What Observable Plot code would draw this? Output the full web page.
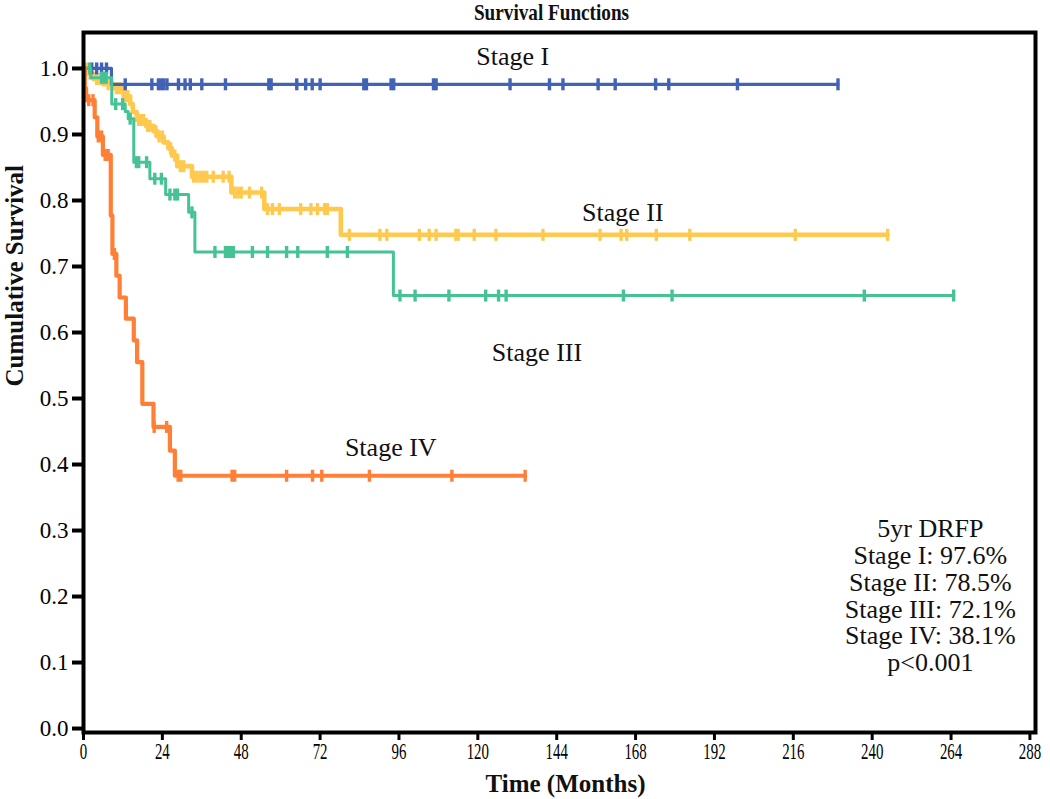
<!DOCTYPE html>
<html><head><meta charset="utf-8">
<script src="https://cdn.jsdelivr.net/npm/d3@7"></script>
<script src="https://cdn.jsdelivr.net/npm/@observablehq/plot@0.6"></script>
<style>
html,body{margin:0;padding:0;background:#fff;}
#chart svg{display:block;}
</style></head><body><div id="chart"></div>
<script>
// ---- data ----
const stageNames = ["Stage I", "Stage II", "Stage III", "Stage IV"];

// step changes [month, cumulative survival]
const stageISteps = [[0, 1.0], [8.5, 0.976]];
const stageIEnd = 229.6;
const stageICensor = [2.5, 4, 5.5, 7, 12.7, 20.8, 22.8, 23.6, 24.4, 25.4, 28.9, 30.9, 32.5, 36.0, 43.2, 56.4, 57.1, 64.9, 67.6, 69.6, 72.0, 85.3, 86.1, 93.6, 94.4, 106.5, 107.3, 129.8, 141.8, 145.9, 156.6, 161.8, 174.1, 178.1, 199.0, 229.6];

const stageIISteps = [[0, 1.0], [1.5, 0.992], [3.0, 0.984], [6.0, 0.976], [9.0, 0.970], [12.2, 0.958], [14.2, 0.946], [15.0, 0.934], [16.2, 0.922], [19.0, 0.913], [21.3, 0.905], [22.5, 0.897], [24.4, 0.888], [25.8, 0.879], [26.9, 0.868], [28.5, 0.852], [33.0, 0.836], [45.0, 0.812], [55.0, 0.787], [78.3, 0.748]];
const stageIIEnd = 244.7;
const stageIICensor = [1, 2, 4, 5, 7.5, 10, 11, 12.8, 13.5, 16.8, 17.5, 18.3, 19.5, 20.2, 22, 23, 24, 26.5, 27.8, 29.5, 30.5, 33.5, 34.5, 35.5, 36.5, 37.5, 39.5, 42.5, 44.3, 46, 47, 48, 50.5, 54.2, 56, 57.5, 59.6, 66.1, 69.2, 71.2, 73.4, 74.2, 80.9, 90.2, 92.3, 102.2, 105.2, 107.3, 113.3, 114, 118.9, 125.5, 139.8, 157.2, 163.6, 165.3, 174.3, 184.5, 216.6, 244.7];

const stageIIISteps = [[0, 1.0], [2.2, 0.986], [8.6, 0.946], [12.7, 0.935], [13.6, 0.924], [15.3, 0.858], [20.2, 0.833], [25.0, 0.809], [32.0, 0.782], [33.9, 0.722], [94.3, 0.656]];
const stageIIIEnd = 264.8;
const stageIIICensor = [1.9, 5.5, 6.2, 6.9, 9.8, 11.9, 14.2, 16.1, 16.8, 19.2, 21.7, 23.7, 26.3, 27.8, 28.6, 33.0, 40.0, 43.2, 44.0, 44.8, 45.6, 51.4, 56.0, 61.8, 65.2, 74.2, 80.3, 96.3, 100.9, 111.2, 122.4, 126.3, 128.6, 164.3, 179.1, 237.6, 264.8];

const stageIVSteps = [[0, 1.0], [0.4, 0.970], [0.8, 0.952], [3.4, 0.926], [4.2, 0.897], [5.9, 0.869], [8.3, 0.777], [8.8, 0.719], [10.0, 0.686], [11.0, 0.653], [12.9, 0.621], [15.3, 0.588], [16.3, 0.555], [17.9, 0.492], [21.3, 0.457], [26.3, 0.421], [27.8, 0.383]];
const stageIVEnd = 134.4;
const stageIVCensor = [1.6, 2.9, 4.5, 5.5, 6.6, 7.5, 9.4, 21.5, 25.3, 28.8, 29.6, 45.2, 46.0, 61.8, 69.7, 72.5, 87.0, 112.1, 134.4];

const xTicks = [0, 24, 48, 72, 96, 120, 144, 168, 192, 216, 240, 264, 288];
const yTicks = [0.0, 0.1, 0.2, 0.3, 0.4, 0.5, 0.6, 0.7, 0.8, 0.9, 1.0];

// curve label anchors (month, survival)
const labelTexts = ["Stage I", "Stage II", "Stage III", "Stage IV"];
const labelMonths = [130.6, 164.1, 138.0, 93.5];
const labelSurv = [1.018, 0.782, 0.570, 0.426];

const summaryLines = ["5yr DRFP", "Stage I: 97.6%", "Stage II: 78.5%", "Stage III: 72.1%", "Stage IV: 38.1%", "p<0.001"];
const summaryAnchor = [257.7, 0.2015];

// ---- styles ----
const colors = {"Stage I": "#4262b5", "Stage II": "#ffc94f", "Stage III": "#45c394", "Stage IV": "#ff7f36"};
const widths = {"Stage I": 3.2, "Stage II": 4.6, "Stage III": 3.0, "Stage IV": 4.2};

// ---- helpers ----
function stepValue(steps, t) { let s = steps[0][1]; for (const [ti, si] of steps) if (ti <= t) s = si; return s; }
function lineData(steps, end) { return [...steps.map(([t, s]) => ({t, s})), {t: end, s: steps[steps.length - 1][1]}]; }
function censorData(steps, times) { return times.map(t => ({t, s: stepValue(steps, t)})); }

const series = [
  {name: "Stage I", steps: stageISteps, end: stageIEnd, censor: stageICensor},
  {name: "Stage II", steps: stageIISteps, end: stageIIEnd, censor: stageIICensor},
  {name: "Stage III", steps: stageIIISteps, end: stageIIIEnd, censor: stageIIICensor},
  {name: "Stage IV", steps: stageIVSteps, end: stageIVEnd, censor: stageIVCensor}
];
const drawOrder = ["Stage II", "Stage I", "Stage III", "Stage IV"];

const vbar = {draw(ctx, size) { const r = Math.sqrt(size / Math.PI); ctx.moveTo(0, -r); ctx.lineTo(0, r); }};

const curveMarks = [];
for (const name of drawOrder) {
  const sr = series.find(d => d.name === name);
  curveMarks.push(Plot.line(lineData(sr.steps, sr.end), {x: "t", y: "s", curve: "step-after", stroke: colors[name], strokeWidth: widths[name]}));
  curveMarks.push(Plot.dot(censorData(sr.steps, sr.censor), {x: "t", y: "s", symbol: vbar, r: 6, fill: "none", stroke: colors[name], strokeWidth: 3.4}));
}

const labels = labelTexts.map((label, i) => ({label, t: labelMonths[i], s: labelSurv[i]}));

const chart = Plot.plot({
  width: 1050,
  height: 799,
  marginTop: 32,
  marginBottom: 67,
  marginLeft: 83,
  marginRight: 15,
  style: {fontFamily: "'Liberation Serif', 'Times New Roman', serif", color: "#000", background: "#fff"},
  x: {domain: [0, 289.7]},
  y: {domain: [-0.006, 1.0545]},
  marks: [
    ...curveMarks,
    Plot.text(labels, {x: "t", y: "s", text: "label", fontSize: 26, fill: "#111"}),
    Plot.text([summaryLines.join("\n")], {x: () => summaryAnchor[0], y: () => summaryAnchor[1], text: d => d, fontSize: 26, lineHeight: 1.03, fill: "#111"}),
    Plot.frame({stroke: "#000", strokeWidth: 4}),
    Plot.axisY(yTicks, {tickSize: 11, tickPadding: 4, strokeWidth: 4, fontSize: 23, tickFormat: d3.format(".1f"), label: null}),
    Plot.axisX(xTicks, {tickSize: 8, tickPadding: 1, strokeWidth: 3, fontSize: 24, label: null}),
    Plot.text(["Cumulative Survival"], {frameAnchor: "left", rotate: -90, dx: -69, dy: 4, fontSize: 25, fontWeight: "bold", fill: "#111"}),
    Plot.text(["Time (Months)"], {frameAnchor: "bottom", dx: 6, dy: 59, fontSize: 25, fontWeight: "bold", fill: "#111"}),
    Plot.text(["Survival Functions"], {frameAnchor: "top", dx: -8, dy: -30, fontSize: 24, fontWeight: "bold", fill: "#111"})
  ]
});
document.getElementById("chart").appendChild(chart);

// condense x tick labels and title like the reference
chart.querySelectorAll('g[aria-label="x-axis tick label"] text').forEach(t => {
  const tr = t.getAttribute("transform") || "";
  t.setAttribute("transform", tr + " scale(0.62,1)");
});
chart.querySelectorAll('g[aria-label="text"] text').forEach(t => {
  if (t.textContent === "Survival Functions") {
    const tr = t.getAttribute("transform") || "";
    t.setAttribute("transform", tr + " scale(0.8,1)");
  }
});
</script>
</body></html>
